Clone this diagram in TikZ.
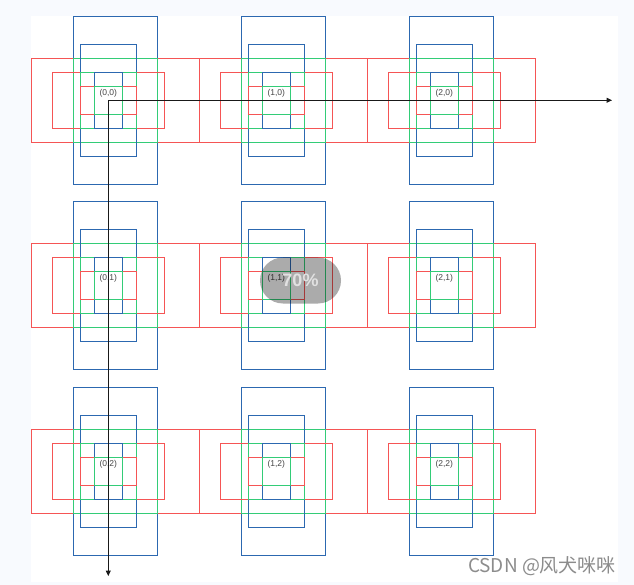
\documentclass[tikz,border=0pt]{standalone}
\usepackage{fontspec}
\setmainfont{Liberation Sans}
\newfontfamily\cjkfont{Noto Sans CJK SC}
\usetikzlibrary{arrows.meta}
\definecolor{bgpale}{RGB}{248,250,254}
\definecolor{cblue}{RGB}{44,104,176}
\definecolor{cred}{RGB}{245,85,85}
\definecolor{cgreen}{RGB}{51,204,119}
\definecolor{ctext}{RGB}{70,70,70}
\definecolor{wmgray}{RGB}{140,140,140}
\definecolor{pilltext}{RGB}{225,225,225}
\begin{document}
\begin{tikzpicture}[x=1pt,y=-1pt,
  bluebox/.style={draw=cblue,line width=1.1pt},
  redbox/.style={draw=cred,line width=1.1pt},
  greenbox/.style={draw=cgreen,line width=1.1pt},
  celllabel/.style={text=ctext,font=\fontsize{8.5}{10}\selectfont,inner sep=0pt},
  axisarrow/.style={draw=black!90,line width=1.1pt,-{Triangle[length=5.5pt,width=5pt]}},
  pillbox/.style={fill=black,fill opacity=0.33,rounded corners=23pt,minimum width=81pt,minimum height=46pt,inner sep=0pt},
  pilllabel/.style={text=pilltext,font=\bfseries\fontsize{18}{20}\selectfont,inner sep=0pt},
  watermark/.style={text=wmgray,font=\cjkfont\fontsize{19}{21}\selectfont,inner sep=0pt}]

\useasboundingbox (0,0) rectangle (634,585);
\fill[bgpale] (0,0) rectangle (634,585);
\fill[white] (31,16) rectangle (618,582);

\foreach \j in {0,1,2}{
  \foreach \i in {0,1,2}{
    \pgfmathsetmacro\cx{108.3+168*\i}
    \pgfmathsetmacro\cy{100.3+185.5*\j}
    % outer level (shifted 7 to the right)
    \draw[bluebox] (\cx+7-42,\cy-84) rectangle (\cx+7+42,\cy+84);
    \draw[redbox] (\cx+7-84,\cy-42) rectangle (\cx+7+84,\cy+42);
    \draw[greenbox] (\cx+7-42,\cy-42) rectangle (\cx+7+42,\cy+42);
    % middle level
    \draw[bluebox] (\cx-28,\cy-56) rectangle (\cx+28,\cy+56);
    \draw[redbox] (\cx-56,\cy-28) rectangle (\cx+56,\cy+28);
    \draw[greenbox] (\cx-28,\cy-28) rectangle (\cx+28,\cy+28);
    % inner level
    \draw[bluebox] (\cx-14,\cy-28) rectangle (\cx+14,\cy+28);
    \draw[redbox] (\cx-28,\cy-14) rectangle (\cx+28,\cy+14);
    \draw[greenbox] (\cx-14,\cy-14) rectangle (\cx+14,\cy+14);
  }
}

\node[celllabel] (lbl-0-0) at (108.3,93) {(0,0)};
\node[celllabel] (lbl-1-0) at (276.3,93) {(1,0)};
\node[celllabel] (lbl-2-0) at (444.3,93) {(2,0)};
\node[celllabel] (lbl-0-1) at (108.3,278.5) {(0,1)};
\node[celllabel] (lbl-1-1) at (276.3,278.5) {(1,1)};
\node[celllabel] (lbl-2-1) at (444.3,278.5) {(2,1)};
\node[celllabel] (lbl-0-2) at (108.3,464) {(0,2)};
\node[celllabel] (lbl-1-2) at (276.3,464) {(1,2)};
\node[celllabel] (lbl-2-2) at (444.3,464) {(2,2)};

\coordinate (origin) at (108.3,100.3);
\coordinate (xend) at (612,100.3);
\coordinate (yend) at (108.3,576);
\draw[axisarrow] (origin) -- (xend);
\draw[axisarrow] (origin) -- (yend);

\node[pillbox] (pill) at (300.5,280.5) {};
\node[pilllabel] (pilltxt) at (pill.center) {70\%};

\node[watermark] (wm) at (542,566.5) {CSDN @风犬咪咪};
\end{tikzpicture}
\end{document}
